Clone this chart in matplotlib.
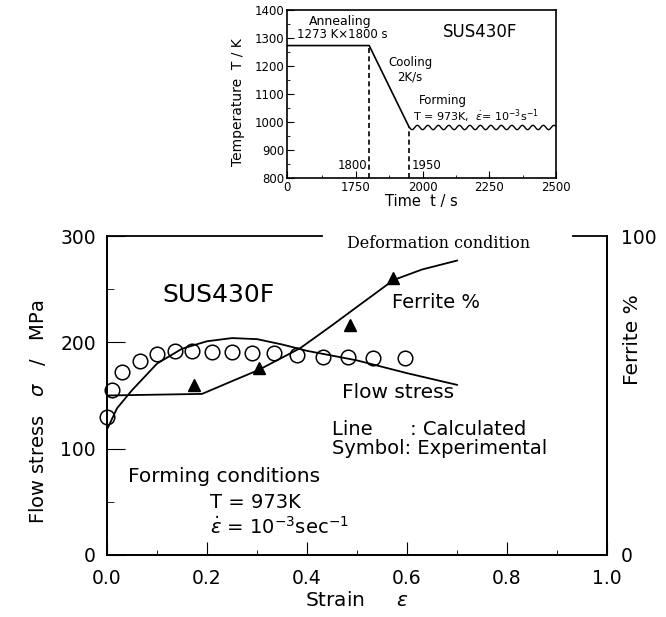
import numpy as np
import matplotlib
matplotlib.use('Agg')
import matplotlib.pyplot as plt
from matplotlib.ticker import FixedLocator

plt.rcParams['font.family'] = ['DejaVu Sans']
plt.rcParams['mathtext.fontset'] = 'dejavusans'

# 实验数据: 流变应力 (圆圈)
exp_strain = [0.0, 0.01, 0.03, 0.066, 0.10, 0.136, 0.17, 0.21, 0.25, 0.29, 0.333, 0.379, 0.431, 0.481, 0.531, 0.595]
exp_stress = [130, 155, 172, 182, 189, 192, 192, 191, 191, 190, 190, 188, 186, 186, 185, 185]

# 计算曲线: 流变应力
calc_strain = [0.0, 0.02, 0.05, 0.1, 0.15, 0.2, 0.25, 0.3, 0.35, 0.4, 0.5, 0.6, 0.7]
calc_stress = [118, 138, 155, 180, 194, 201, 204, 203, 198, 192, 183, 171, 160]

# 铁素体 % (三角 + 计算曲线)
ferr_exp_strain = [0.174, 0.303, 0.486, 0.572]
ferr_exp_pct = [53.3, 58.6, 72, 86.8]
ferr_calc_strain = [0.0, 0.19, 0.25, 0.303, 0.386, 0.45, 0.5, 0.573, 0.63, 0.70]
ferr_calc_pct = [50, 50.5, 54.5, 58, 64.8, 72, 77.8, 86.2, 89.5, 92.3]

# 热处理工艺 (插图)
heat_time = [1492, 1800, 1950]
heat_temp = [1273, 1273, 981]
form_time = [1950, 2500]
form_temp = [981, 981]

x_ticks = [0.0, 0.2, 0.4, 0.6, 0.8, 1.0]
x_ticklabels = ['0.0', '0.2', '0.4', '0.6', '0.8', '1.0']
ins_xticks = [1492, 1750, 2000, 2250, 2500]
ins_xticklabels = ['0', '1750', '2000', '2250', '2500']

fig = plt.figure(figsize=(6.66, 6.17), dpi=100)

# ---------- 主图 ----------
ax = fig.add_axes([0.1607, 0.1005, 0.7508, 0.5170])
ax.plot(calc_strain, calc_stress, color='black', lw=1.3)
ax.plot(exp_strain, exp_stress, 'o', mfc='none', mec='black', ms=10.5, mew=1.1, clip_on=False)
ax.set_xlim(0, 1.0)
ax.set_ylim(0, 300)
ax.xaxis.set_major_locator(FixedLocator(x_ticks))
ax.xaxis.set_minor_locator(FixedLocator([0.1, 0.3, 0.5, 0.7, 0.9]))
ax.set_xticklabels(x_ticklabels)
ax.yaxis.set_major_locator(FixedLocator([0, 100, 200, 300]))
ax.yaxis.set_minor_locator(FixedLocator([50, 150, 250]))
ax.tick_params(axis='both', which='both', direction='in', labelsize=13.5)
ax.tick_params(axis='y', which='major', length=13, pad=8)
ax.tick_params(axis='y', which='minor', length=5)
ax.tick_params(axis='x', which='major', length=9.5, pad=10)
ax.tick_params(axis='x', which='minor', length=3.5)
for s in ax.spines.values():
    s.set_linewidth(1.3)
ax.spines['top'].set_visible(False)
# 上边框被文字打断
ax.plot([0, 0.43], [1, 1], transform=ax.transAxes, color='black', lw=1.3, clip_on=False)
ax.plot([0.932, 1.0], [1, 1], transform=ax.transAxes, color='black', lw=1.3, clip_on=False)

ax.set_xlabel(r'Strain     $\varepsilon$', fontsize=14.5, labelpad=2)
ax.set_ylabel(r'Flow stress   $\sigma$   /   MPa', fontsize=14)
ax.yaxis.set_label_coords(-0.118, 0.45)

# 右侧轴
ax2 = ax.twinx()
ax2.set_ylim(0, 100)
ax2.plot(ferr_calc_strain, ferr_calc_pct, color='black', lw=1.3)
ax2.plot(ferr_exp_strain, ferr_exp_pct, '^', color='black', ms=9)
ax2.yaxis.set_major_locator(FixedLocator([0, 100]))
ax2.tick_params(axis='y', length=0, pad=10, labelsize=13.5)
ax2.spines['top'].set_visible(False)
for s in ax2.spines.values():
    s.set_linewidth(1.3)
fig.text(0.949, 0.449, 'Ferrite %', rotation=90, fontsize=14.5, ha='center', va='center')

# 文字标注
ax.text(0.48, 0.978, 'Deformation condition', transform=ax.transAxes, fontsize=11.5,
        family='DejaVu Serif', ha='left', va='center')
ax.text(0.11, 0.815, 'SUS430F', transform=ax.transAxes, fontsize=18, va='center')
ax.text(0.57, 0.79, 'Ferrite %', transform=ax.transAxes, fontsize=14, va='center')
ax.text(0.47, 0.508, 'Flow stress', transform=ax.transAxes, fontsize=14.5, va='center')
ax.text(0.45, 0.392, 'Line      : Calculated', transform=ax.transAxes, fontsize=14, va='center')
ax.text(0.45, 0.335, 'Symbol: Experimental', transform=ax.transAxes, fontsize=14, va='center')
ax.text(0.042, 0.245, 'Forming conditions', transform=ax.transAxes, fontsize=14.5, va='center')
ax.text(0.206, 0.166, 'T = 973K', transform=ax.transAxes, fontsize=14, va='center')
ax.text(0.206, 0.088, r'$\dot{\varepsilon}$ = 10$^{-3}$sec$^{-1}$', transform=ax.transAxes,
        fontsize=14, va='center')

# ---------- 插图 ----------
ins = fig.add_axes([0.4309, 0.7115, 0.4039, 0.2723])
ins.plot(heat_time, heat_temp, color='black', lw=1.2)
wave, = ins.plot(form_time, form_temp, color='black', lw=1.0)
wave.set_sketch_params(scale=2.2, length=10.5, randomness=1)
ins.plot([1800, 1800], [800, 1273], color='black', lw=1.2, ls=(0, (3, 2)))
ins.plot([1950, 1950], [800, 975], color='black', lw=1.2, ls=(0, (3, 2)))
ins.set_xlim(1492, 2500)
ins.set_ylim(800, 1400)
ins.xaxis.set_major_locator(FixedLocator(ins_xticks))
ins.xaxis.set_minor_locator(FixedLocator([1625, 1875, 2125, 2375]))
ins.set_xticklabels(ins_xticklabels)
ins.yaxis.set_major_locator(FixedLocator([800, 900, 1000, 1100, 1200, 1300, 1400]))
ins.yaxis.set_minor_locator(FixedLocator([850, 950, 1050, 1150, 1250, 1350]))
ins.tick_params(axis='both', which='both', direction='in', labelsize=8.5, pad=2)
ins.tick_params(which='major', length=5)
ins.tick_params(which='minor', length=2.5)
for s in ins.spines.values():
    s.set_linewidth(1.2)
ins.set_xlabel('Time  t / s', fontsize=10.5, labelpad=0)
ins.set_ylabel('Temperature  T / K', fontsize=10, labelpad=2)
ins.yaxis.set_label_coords(-0.155, 0.45)

ins.text(1690, 1360, 'Annealing', fontsize=9, ha='center', va='center')
ins.text(1530, 1313, '1273 K\u00d71800 s', fontsize=8.5, ha='left', va='center')
ins.text(2215, 1320, 'SUS430F', fontsize=12, ha='center', va='center')
ins.text(1953, 1211, 'Cooling', fontsize=8.5, ha='center', va='center')
ins.text(1953, 1161, '2K/s', fontsize=8.5, ha='center', va='center')
ins.text(2077, 1078, 'Forming', fontsize=8.5, ha='center', va='center')
ins.text(1964, 1022, r'T = 973K,  $\dot{\varepsilon}$= 10$^{-3}$s$^{-1}$', fontsize=8,
         ha='left', va='center')
ins.text(1792, 846, '1800', fontsize=8.5, ha='right', va='center')
ins.text(1960, 846, '1950', fontsize=8.5, ha='left', va='center')

fig.savefig('out.png', dpi=100)
